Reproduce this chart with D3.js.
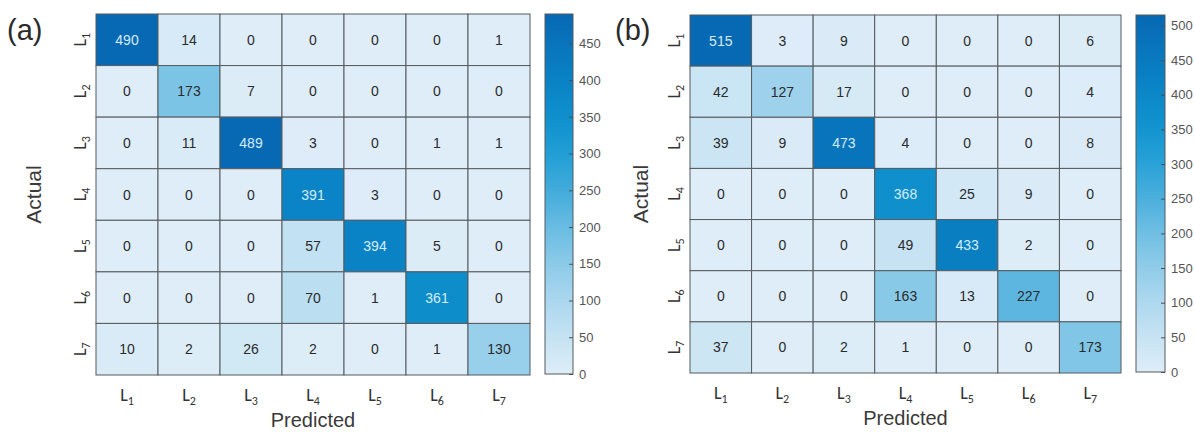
<!DOCTYPE html>
<html>
<head>
<meta charset="utf-8">
<script src="https://d3js.org/d3.v7.min.js"></script>
<style>
  html, body { margin: 0; padding: 0; background: #fff; }
  svg { display: block; font-family: "Liberation Sans", Arial, sans-serif; }
</style>
</head>
<body>
<svg id="chart" width="1194" height="432"></svg>
<script>
// Class labels shared by both confusion matrices
const classes = ["1", "2", "3", "4", "5", "6", "7"];

// Rows = actual class, columns = predicted class
const matrixA = [
  [490, 14, 0, 0, 0, 0, 1],
  [0, 173, 7, 0, 0, 0, 0],
  [0, 11, 489, 3, 0, 1, 1],
  [0, 0, 0, 391, 3, 0, 0],
  [0, 0, 0, 57, 394, 5, 0],
  [0, 0, 0, 70, 1, 361, 0],
  [10, 2, 26, 2, 0, 1, 130]
];
const matrixB = [
  [515, 3, 9, 0, 0, 0, 6],
  [42, 127, 17, 0, 0, 0, 4],
  [39, 9, 473, 4, 0, 0, 8],
  [0, 0, 0, 368, 25, 9, 0],
  [0, 0, 0, 49, 433, 2, 0],
  [0, 0, 0, 163, 13, 227, 0],
  [37, 0, 2, 1, 0, 0, 173]
];

// Colorbar tick values
const ticksA = [0, 50, 100, 150, 200, 250, 300, 350, 400, 450];
const ticksB = [0, 50, 100, 150, 200, 250, 300, 350, 400, 450, 500];

// Light-to-dark blue colormap stops
const cmapStops = ["#deedf8", "#c6e3f3", "#acd7ef", "#8ecbe9", "#6bbde3", "#46addc",
                   "#24a0d6", "#1092ce", "#0a84c6", "#0877bd", "#0768b4"];
const cmap = d3.scaleLinear()
  .domain(d3.range(cmapStops.length).map(i => i / (cmapStops.length - 1)))
  .range(cmapStops)
  .interpolate(d3.interpolateRgb)
  .clamp(true);

const svg = d3.select("#chart");

function panel(cfg) {
  const { data, ticks, tag, tagX, gx0, gx1, gy0, gy1, cbx0, cbx1, actualX, rowLabelX } = cfg;
  const vmax = d3.max(data.flat());
  const g = svg.append("g");

  const x = d3.scaleBand().domain(classes).range([gx0, gx1]);
  const y = d3.scaleBand().domain(classes).range([gy0, gy1]);
  const color = v => cmap(v / vmax);

  const cells = [];
  data.forEach((row, i) => row.forEach((v, j) => cells.push({ r: classes[i], c: classes[j], v })));

  g.selectAll("rect.cell").data(cells).join("rect")
    .attr("class", "cell")
    .attr("x", d => x(d.c)).attr("y", d => y(d.r))
    .attr("width", x.bandwidth()).attr("height", y.bandwidth())
    .attr("fill", d => color(d.v))
    .attr("stroke", "#555a5e").attr("stroke-width", 1);

  g.selectAll("text.val").data(cells).join("text")
    .attr("class", "val")
    .attr("x", d => x(d.c) + x.bandwidth() / 2)
    .attr("y", d => y(d.r) + y.bandwidth() / 2)
    .attr("text-anchor", "middle").attr("dominant-baseline", "central")
    .attr("font-size", 14)
    .attr("fill", d => d.v / vmax > 0.6 ? "#d6ecfa" : "#2b2b2b")
    .text(d => d.v);

  // Column tick labels (L with subscript)
  const colLab = g.selectAll("text.col").data(classes).join("text")
    .attr("class", "col")
    .attr("x", d => x(d) + x.bandwidth() / 2)
    .attr("y", gy1 + 26)
    .attr("text-anchor", "middle")
    .attr("font-family", "Carlito, 'Liberation Sans', sans-serif")
    .attr("font-size", 18).attr("fill", "#333");
  colLab.append("tspan").text("L");
  colLab.append("tspan").attr("font-size", 12).attr("dy", 4).text(d => d);

  // Row tick labels, rotated
  const rowLab = g.selectAll("text.row").data(classes).join("text")
    .attr("class", "row")
    .attr("transform", d => `translate(${rowLabelX},${y(d) + y.bandwidth() / 2}) rotate(-90)`)
    .attr("text-anchor", "middle")
    .attr("font-family", "Carlito, 'Liberation Sans', sans-serif")
    .attr("font-size", 18).attr("fill", "#333");
  rowLab.append("tspan").text("L");
  rowLab.append("tspan").attr("font-size", 12).attr("dy", 4).text(d => d);

  // Axis titles
  g.append("text")
    .attr("x", (gx0 + gx1) / 2).attr("y", gy1 + 52)
    .attr("text-anchor", "middle").attr("font-size", 20).attr("fill", "#3a3a3a")
    .text("Predicted");
  g.append("text")
    .attr("transform", `translate(${actualX},${(gy0 + gy1) / 2}) rotate(-90)`)
    .attr("text-anchor", "middle").attr("font-size", 21).attr("fill", "#3a3a3a")
    .text("Actual");

  // Panel tag
  g.append("text")
    .attr("x", tagX).attr("y", 40)
    .attr("font-size", 29).attr("fill", "#2a2a2a")
    .text(tag);

  // Colorbar
  const cbScale = d3.scaleLinear().domain([0, vmax]).range([gy1 - 1, gy0]);
  const gradId = "grad" + tag.replace(/\W/g, "");
  const grad = svg.append("defs").append("linearGradient")
    .attr("id", gradId).attr("x1", 0).attr("y1", 1).attr("x2", 0).attr("y2", 0);
  grad.selectAll("stop").data(cmapStops).join("stop")
    .attr("offset", (d, i) => i / (cmapStops.length - 1))
    .attr("stop-color", d => d);

  g.append("rect")
    .attr("x", cbx0).attr("y", gy0)
    .attr("width", cbx1 - cbx0).attr("height", gy1 - 1 - gy0)
    .attr("fill", `url(#${gradId})`)
    .attr("stroke", "#555a5e").attr("stroke-width", 1);

  const axis = d3.axisRight(cbScale).tickValues(ticks).tickSize(-4).tickPadding(6);
  const ax = g.append("g").attr("transform", `translate(${cbx1},0)`).call(axis);
  ax.select(".domain").remove();
  ax.selectAll(".tick line").attr("stroke", "#4a4f53");
  ax.selectAll(".tick text")
    .attr("font-size", 13).attr("fill", "#555")
    .attr("font-family", "'Liberation Sans', Arial, sans-serif");
}

panel({ data: matrixA, ticks: ticksA, tag: "(a)", tagX: 7,
        gx0: 96, gx1: 530, gy0: 14, gy1: 375, cbx0: 545, cbx1: 573,
        actualX: 41, rowLabelX: 86 });
panel({ data: matrixB, ticks: ticksB, tag: "(b)", tagX: 615,
        gx0: 690, gx1: 1121, gy0: 15, gy1: 373, cbx0: 1136, cbx1: 1165,
        actualX: 648, rowLabelX: 680 });
</script>
</body>
</html>
